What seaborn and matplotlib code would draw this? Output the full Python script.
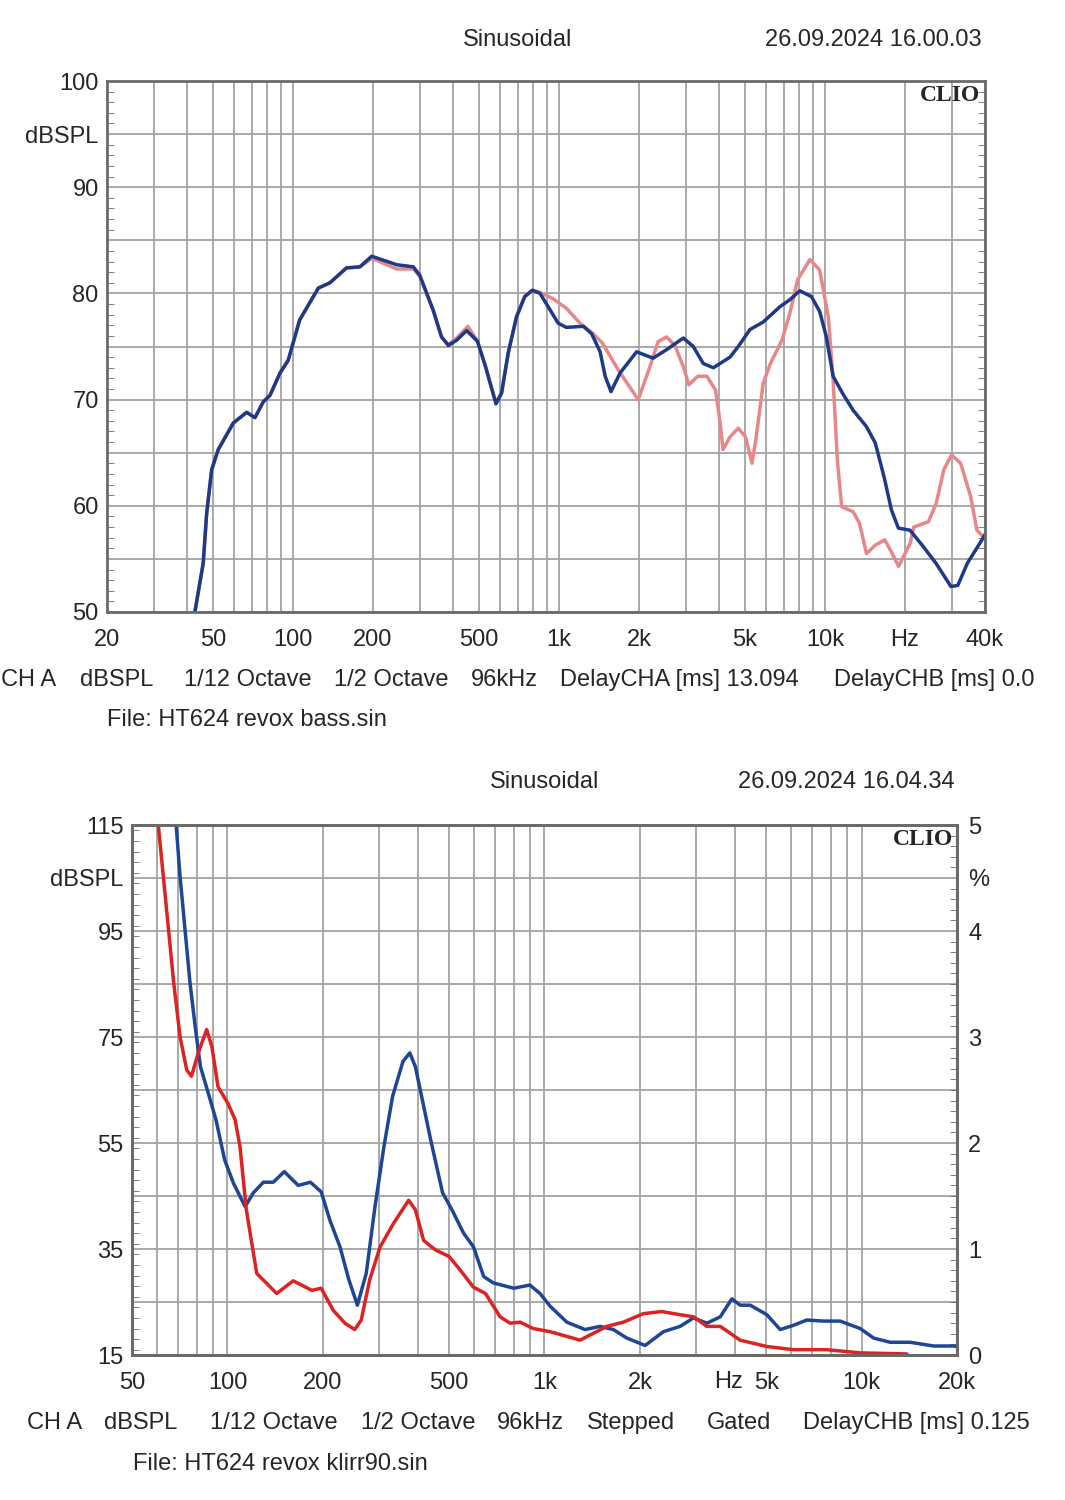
import pandas as pd
import seaborn as sns
import matplotlib.pyplot as plt
from matplotlib.ticker import FixedLocator, MultipleLocator, NullFormatter
import matplotlib.transforms as mtransforms

# ---- top chart: frequency response, dBSPL ----
freq_blue_top = [40, 42.8, 46, 47.4, 49.5, 52.4, 59.7, 67, 72, 77.4, 82, 89.4, 96, 106, 124.6,
                 137.8, 159, 178.6, 197.8, 245.6, 283.6, 300, 337, 362, 384, 413, 450, 494, 530,
                 561, 580, 609, 645, 693, 744, 795, 849, 911, 993, 1067, 1236, 1328, 1429, 1493,
                 1570, 1698, 1959, 2260, 2540, 2937, 3200, 3490, 3810, 4400, 4725, 5230, 5860,
                 6780, 7380, 8050, 8900, 9560, 10130, 10740, 11650, 12770, 14340, 15480, 16700,
                 17800, 18900, 20900, 23200, 26150, 29780, 31600, 34350, 39200, 40000]
spl_blue_top = [47, 50, 54.6, 59.3, 63.4, 65.3, 67.8, 68.8, 68.3, 69.8, 70.4, 72.5, 73.7, 77.5,
                80.5, 81.0, 82.4, 82.5, 83.5, 82.7, 82.5, 81.7, 78.4, 75.9, 75.1, 75.6, 76.5,
                75.5, 73.1, 70.9, 69.6, 70.6, 74.4, 77.8, 79.7, 80.3, 80.0, 78.75, 77.2, 76.8,
                76.9, 76.2, 74.5, 72.2, 70.75, 72.5, 74.5, 73.9, 74.7, 75.8, 75.0, 73.4, 73.0,
                74.0, 75.0, 76.6, 77.3, 78.75, 79.4, 80.25, 79.7, 78.3, 75.9, 72.2, 70.6, 69.0,
                67.45, 65.9, 62.7, 59.6, 57.9, 57.7, 56.3, 54.6, 52.4, 52.5, 54.6, 56.9, 57.3]

freq_pink_top = [40, 42.8, 46, 47.4, 49.5, 52.4, 59.7, 67, 72, 77.4, 82, 89.4, 96, 106, 124.6,
                 137.8, 159, 178.6, 197.8, 245.6, 283.6, 300, 337, 362, 384, 413, 455, 494, 530,
                 561, 580, 609, 645, 693, 744, 795, 849, 950, 1067, 1200, 1346, 1460, 1670, 1987,
                 2200, 2360, 2540, 2730, 2937, 3080, 3330, 3600, 3880, 4040, 4140, 4400, 4725,
                 5030, 5320, 5500, 5860, 6240, 6900, 7380, 7900, 8790, 9560, 10300, 10740, 11140,
                 11570, 12770, 13500, 14340, 15480, 16810, 17920, 18930, 20950, 21600, 24500,
                 26200, 28000, 29950, 32400, 35300, 37300, 39300, 40000]
spl_pink_top = [47, 50, 54.6, 59.3, 63.4, 65.3, 67.8, 68.8, 68.3, 69.8, 70.4, 72.5, 73.7, 77.5,
                80.5, 81.0, 82.4, 82.5, 83.3, 82.3, 82.3, 81.6, 78.4, 75.9, 75.2, 75.8, 76.9,
                75.5, 73.1, 70.9, 69.7, 70.7, 74.4, 77.8, 79.7, 80.3, 80.1, 79.5, 78.6, 77.2,
                76.2, 75.3, 72.8, 70.0, 73.1, 75.45, 75.9, 75.1, 73.1, 71.4, 72.2, 72.2, 70.9,
                67.8, 65.3, 66.5, 67.3, 66.5, 64.0, 66.2, 71.5, 73.4, 75.6, 78.1, 81.3, 83.2,
                82.2, 77.8, 71.9, 64.3, 59.9, 59.45, 58.35, 55.5, 56.3, 56.8, 55.5, 54.3, 56.5,
                58.0, 58.5, 60.2, 63.4, 64.8, 64.0, 60.9, 57.7, 57.1, 57.0]

top_xgrid = [20, 30, 40, 50, 60, 70, 80, 90, 100, 200, 300, 400, 500, 600, 700, 800, 900,
             1000, 2000, 3000, 4000, 5000, 6000, 7000, 8000, 9000, 10000, 20000, 30000, 40000]
top_xlabels = {20: "20", 50: "50", 100: "100", 200: "200", 500: "500", 1000: "1k",
               2000: "2k", 5000: "5k", 10000: "10k", 20000: "Hz", 40000: "40k"}
top_ylabels = {100: "100", 95: "dBSPL", 90: "90", 80: "80", 70: "70", 60: "60", 50: "50"}

# ---- bottom chart: distortion, % ----
freq_blue_bot = [64, 68.9, 70.9, 73.5, 76.2, 79.1, 82.2, 87, 92, 98, 104.5, 113.7, 120.7,
                 129.8, 139.5, 151.1, 167.2, 182.6, 197.5, 210.5, 226.5, 241.5, 257, 274, 292,
                 311.7, 331.8, 357.8, 376, 391.5, 411.6, 437.5, 477, 510.6, 555.5, 597, 643,
                 689.5, 799.5, 899, 968, 1042, 1176, 1342, 1497, 1649, 1818, 2076, 2372, 2678,
                 2950, 3254, 3583, 3900, 4140, 4456, 5028, 5538, 6100, 6718, 7586, 8557, 9900,
                 10910, 12310, 14240, 16860, 19500, 20000]
pct_blue_bot = [5.6, 5.0, 4.51, 4.01, 3.51, 3.10, 2.72, 2.47, 2.22, 1.84, 1.62, 1.40, 1.53,
                1.63, 1.63, 1.73, 1.60, 1.63, 1.54, 1.27, 1.02, 0.71, 0.47, 0.77, 1.40, 1.97,
                2.44, 2.77, 2.85, 2.72, 2.41, 2.03, 1.53, 1.37, 1.15, 1.02, 0.74, 0.68, 0.63,
                0.66, 0.58, 0.46, 0.31, 0.24, 0.27, 0.24, 0.16, 0.09, 0.22, 0.27, 0.35, 0.30,
                0.36, 0.53, 0.47, 0.47, 0.38, 0.24, 0.28, 0.33, 0.32, 0.32, 0.25, 0.16, 0.12,
                0.12, 0.085, 0.085, 0.08]

freq_red_bot = [58, 60.5, 62.8, 65.2, 67.7, 70.9, 74.4, 77, 80.9, 86, 89.3, 93.4, 100.5, 105.7,
                109.5, 114.7, 123.7, 143, 161.2, 184.5, 197.5, 215.8, 234.8, 252, 264.2, 281,
                303, 333.8, 372.9, 391.5, 415.7, 453.6, 500, 542.6, 597, 651.5, 724.5, 779,
                838.5, 920, 1042, 1295, 1572, 1773, 2050, 2343, 2678, 2950, 3254, 3583, 4140,
                5028, 6100, 7775, 9900, 13900]
pct_red_bot = [5.4, 5.0, 4.51, 4.01, 3.51, 3.0, 2.69, 2.63, 2.85, 3.07, 2.91, 2.53, 2.37, 2.22,
               1.97, 1.37, 0.77, 0.58, 0.70, 0.61, 0.63, 0.42, 0.30, 0.24, 0.33, 0.71, 1.02,
               1.24, 1.46, 1.37, 1.08, 0.99, 0.93, 0.80, 0.64, 0.58, 0.36, 0.30, 0.31, 0.25,
               0.22, 0.14, 0.27, 0.31, 0.39, 0.41, 0.38, 0.36, 0.27, 0.27, 0.14, 0.08, 0.05,
               0.05, 0.02, 0.01]

bot_xgrid = [50, 60, 70, 80, 90, 100, 200, 300, 400, 500, 600, 700, 800, 900, 1000, 2000,
             3000, 4000, 5000, 6000, 7000, 8000, 9000, 10000, 20000]
bot_xlabels = {50: "50", 100: "100", 200: "200", 500: "500", 1000: "1k", 2000: "2k",
               5000: "5k", 10000: "10k", 20000: "20k"}
bot_ylabels = {115: "115", 105: "dBSPL", 95: "95", 75: "75", 55: "55", 35: "35", 15: "15"}
bot_rlabels = {5: "5", 4.5: "%", 4: "4", 3: "3", 2: "2", 1: "1", 0: "0"}

sns.set_style("white")
plt.rcParams["font.family"] = ["Liberation Sans", "DejaVu Sans"]
FS = 17
GRID = "#a3a3a3"
FRAME = "#6a6a6a"
LW = 2.5

fig = plt.figure(figsize=(10.65, 15), dpi=100)
ax1 = fig.add_axes([107 / 1065, 1 - 612 / 1500, 878 / 1065, 531 / 1500])
ax2 = fig.add_axes([132 / 1065, 1 - 1355 / 1500, 825 / 1065, 530 / 1500])


def style_axes(ax, xgrid, xlabels, yticks, ylabels):
    ax.set_xscale("log")
    ax.set_xticks(xgrid, [xlabels.get(v, "") for v in xgrid])
    ax.xaxis.set_minor_locator(FixedLocator([]))
    ax.xaxis.set_minor_formatter(NullFormatter())
    ax.set_yticks(yticks, [ylabels.get(v, "") for v in yticks])
    ax.grid(True, which="major", color=GRID, lw=1.3)
    ax.tick_params(axis="x", length=0, pad=12, labelsize=FS)
    ax.tick_params(axis="y", which="major", length=0, pad=6, labelsize=FS)
    ax.tick_params(axis="y", which="minor", direction="in", length=5, color=FRAME,
                   left=True, right=True)
    for s in ax.spines.values():
        s.set_color(FRAME)
        s.set_linewidth(2)
    ax.set_xlabel("")
    ax.set_ylabel("")


# top chart
df_pink = pd.DataFrame({"f": freq_pink_top, "spl": spl_pink_top})
df_blue = pd.DataFrame({"f": freq_blue_top, "spl": spl_blue_top})
sns.lineplot(data=df_pink, x="f", y="spl", ax=ax1, color="#e8878a", lw=LW, estimator=None)
sns.lineplot(data=df_blue, x="f", y="spl", ax=ax1, color="#1c3a88", lw=LW, estimator=None)
ax1.set_xlim(20, 40000)
ax1.set_ylim(50, 100)
style_axes(ax1, top_xgrid, top_xlabels, list(range(50, 101, 5)), top_ylabels)
ax1.yaxis.set_minor_locator(MultipleLocator(1))
ax1.text(0.995, 0.993, "CLIO", transform=ax1.transAxes, ha="right", va="top",
         fontsize=17, fontweight="bold", family="Liberation Serif")

fig.text(518 / 1065, 1 - 40 / 1500, "Sinusoidal", ha="center", va="center", fontsize=FS)
fig.text(873 / 1065, 1 - 40 / 1500, "26.09.2024 16.00.03", ha="center", va="center", fontsize=FS)
row1 = [(1, "CH A"), (80, "dBSPL"), (184, "1/12 Octave"), (334, "1/2 Octave"), (471, "96kHz"),
        (560, "DelayCHA [ms] 13.094"), (834, "DelayCHB [ms] 0.0")]
for x, t in row1:
    fig.text(x / 1065, 1 - 680 / 1500, t, ha="left", va="center", fontsize=FS)
fig.text(107 / 1065, 1 - 720 / 1500, "File: HT624 revox bass.sin", ha="left", va="center",
         fontsize=FS)

# bottom chart
ax2r = ax2.twinx()
df_bb = pd.DataFrame({"f": freq_blue_bot, "pct": pct_blue_bot})
df_rb = pd.DataFrame({"f": freq_red_bot, "pct": pct_red_bot})
sns.lineplot(data=df_bb, x="f", y="pct", ax=ax2r, color="#1f4596", lw=LW, estimator=None)
sns.lineplot(data=df_rb, x="f", y="pct", ax=ax2r, color="#dd2222", lw=LW, estimator=None)
ax2.set_xlim(50, 20000)
ax2.set_ylim(15, 115)
ax2r.set_ylim(0, 5)
style_axes(ax2, bot_xgrid, bot_xlabels, list(range(15, 116, 10)), bot_ylabels)
ax2.yaxis.set_minor_locator(MultipleLocator(2))
ax2.tick_params(axis="y", which="minor", right=False)
rt = [0, 1, 2, 3, 4, 4.5, 5]
ax2r.set_yticks(rt, [bot_rlabels[v] for v in rt])
ax2r.yaxis.set_minor_locator(MultipleLocator(0.1))
ax2r.tick_params(axis="y", which="major", length=0, pad=8, labelsize=FS)
ax2r.tick_params(axis="y", which="minor", direction="in", length=5, color=FRAME)
ax2r.set_ylabel("")
ax2r.grid(False)
for s in ax2r.spines.values():
    s.set_color(FRAME)
    s.set_linewidth(2)
ax2r.text(0.995, 0.993, "CLIO", transform=ax2r.transAxes, ha="right", va="top",
          fontsize=17, fontweight="bold", family="Liberation Serif")
trans = mtransforms.blended_transform_factory(ax2.transData, ax2.transAxes)
ax2.text(3800, -27 / 530, "Hz", transform=trans, ha="center", va="center", fontsize=FS)

fig.text(545 / 1065, 1 - 782 / 1500, "Sinusoidal", ha="center", va="center", fontsize=FS)
fig.text(846 / 1065, 1 - 782 / 1500, "26.09.2024 16.04.34", ha="center", va="center", fontsize=FS)
row2 = [(27, "CH A"), (104, "dBSPL"), (210, "1/12 Octave"), (361, "1/2 Octave"),
        (497, "96kHz"), (587, "Stepped"), (707, "Gated"), (803, "DelayCHB [ms] 0.125")]
for x, t in row2:
    fig.text(x / 1065, 1 - 1423 / 1500, t, ha="left", va="center", fontsize=FS)
fig.text(133 / 1065, 1 - 1464 / 1500, "File: HT624 revox klirr90.sin", ha="left", va="center",
         fontsize=FS)

fig.savefig("out.png", dpi=100, facecolor="white")
